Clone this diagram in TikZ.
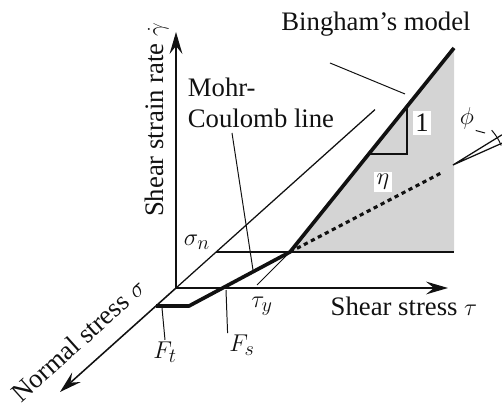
\documentclass[tikz,border=0pt]{standalone}
\usepackage{fontspec}
\setmainfont{Liberation Serif}
\usepackage{tikz}
\usepackage{xcolor}
\usetikzlibrary{arrows.meta,positioning}
\definecolor{ink}{HTML}{111111}
\definecolor{stipple}{HTML}{D4D4D4}
\tikzset{
  axis/.style={draw=ink,line width=1.1pt,
               -{Stealth[length=5.5mm,width=3.2mm,inset=2mm]}},
  plane/.style={draw=ink,line width=0.9pt},
  heavy/.style={draw=ink,line width=2.6pt,line join=round},
  leader/.style={draw=ink,line width=0.7pt},
  dotline/.style={draw=ink,line width=2.2pt,dash pattern=on 3pt off 2.6pt},
  lbl/.style={font=\fontsize{19}{22}\selectfont,inner sep=1pt,text=ink},
  tag/.style={lbl,fill=white,inner sep=2pt}
}

\begin{document}
\begin{tikzpicture}[x=1cm,y=1cm]
    \path[use as bounding box] (0,0) rectangle (12.55,10.2);

    % key points
    \coordinate (O) at (4.40,3.00);
    \coordinate (B) at (7.25,3.90);
    \coordinate (Btop) at (11.35,9.00);
    \coordinate (Bfoot) at (11.35,3.90);
    \coordinate (gtip) at (4.40,9.40);
    \coordinate (ttip) at (11.20,3.00);
    \coordinate (stip) at (1.50,0.40);
    \coordinate (sback) at (9.375,7.46);
    \coordinate (Sn) at (5.40,3.90);
    \coordinate (Ft) at (3.90,2.55);
    \coordinate (kink) at (4.725,2.55);
    \coordinate (tyfoot) at (6.425,3.075);
    \coordinate (dotend) at (11.075,5.90);
    \coordinate (s1) at (9.22,6.35);
    \coordinate (s2) at (10.175,6.35);
    \coordinate (s3) at (10.175,7.54);
    \coordinate (W) at (11.325,6.075);
    \coordinate (wup) at (12.55,6.83);
    \coordinate (wlow) at (12.55,6.62);

    \fill[stipple] (B) -- (Btop) -- (Bfoot) -- cycle;

    \draw[plane] (Sn) -- (B);
    \draw[plane,line width=1.6pt] (B) -- (Bfoot);
    \draw[plane] (sback) -- (O);
    \draw[axis] (O) -- (stip);
    \draw[axis] (O) -- (gtip);
    \draw[axis] (O) -- (ttip);
    \draw[leader] (tyfoot) -- (B);
    \draw[heavy] (Ft) -- (kink) -- (B) -- (Btop);
    \draw[dotline] (B) -- (dotend);
    \draw[plane] (s1) -- (s2) -- (s3);

    % angle wedge
    \draw[plane] (wup) -- (W) -- (wlow);
    \draw[leader] (W) ++(22:1.3) arc[start angle=22,end angle=42,radius=1.3];

    % labels
    \node[lbl,rotate=90] (ylab) at (3.925,7.20) {Shear strain rate $\dot\gamma$};
    \node[lbl] (xlab) at (10.10,2.55) {Shear stress $\tau$};
    \node[lbl,rotate=42] (zlab) at (1.95,1.70) {Normal stress $\sigma$};
    \node[lbl,align=left] (mc) at (6.525,7.625) {Mohr-\\Coulomb line};
    \node[lbl] (bm) at (9.40,9.60) {Bingham's model};
    \node[lbl] (sn) at (4.925,4.15) {$\sigma_n$};
    \node[lbl] (ty) at (6.55,2.55) {$\tau_y$};
    \node[lbl] (ft) at (4.125,1.40) {$F_t$};
    \node[lbl] (fs) at (6.05,1.575) {$F_s$};
    \node[tag] (one) at (10.55,7.125) {1};
    \node[tag] (eta) at (9.575,5.65) {$\eta$};
    \node[lbl] (phi) at (11.675,7.25) {$\phi$};

    % leader lines
    \coordinate (mcfoot) at (6.325,3.45);
    \coordinate (mchead) at (5.80,6.875);
    \coordinate (bmhead) at (8.25,8.625);
    \coordinate (bmfoot) at (10.125,7.85);
    \coordinate (fthead) at (4.05,2.50);
    \coordinate (fsfoot) at (5.65,2.95);
    \coordinate (phifoot) at (12.125,6.875);
    \draw[leader] (mchead) -- (mcfoot);
    \draw[leader] (bmhead) -- (bmfoot);
    \draw[leader] (fthead) -- (ft.north);
    \draw[leader] (fsfoot) -- (fs.north west);
    \draw[leader] (phi.south east) -- (phifoot);
\end{tikzpicture}
\end{document}
